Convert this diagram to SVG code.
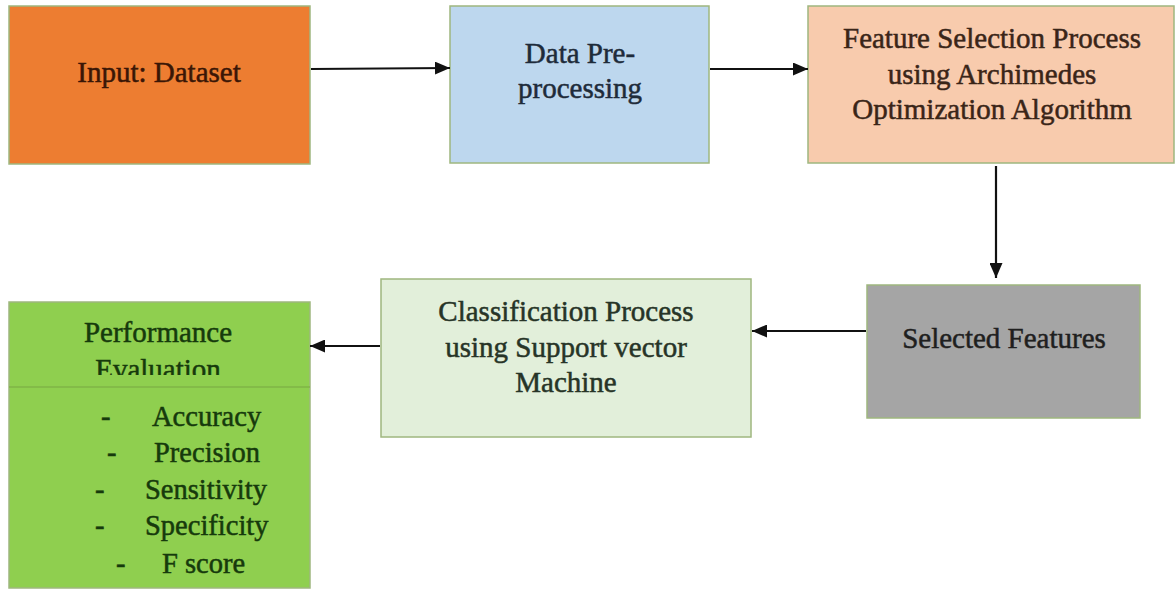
<svg xmlns="http://www.w3.org/2000/svg" width="1175" height="590" viewBox="0 0 1175 590">
<style>
.box{stroke:#9fb77f;stroke-width:1.5}
.t{font-family:"Liberation Serif","Times New Roman",serif;font-size:29px;text-anchor:middle;stroke-width:0.5}
.l{font-family:"Liberation Serif","Times New Roman",serif;font-size:28.5px;stroke-width:0.5}
.c{stroke:#111;stroke-width:2.2;fill:none;marker-end:url(#ah)}
</style>
<defs>
<marker id="ah" viewBox="0 0 15 13" refX="15" refY="6.5" markerWidth="15" markerHeight="13" markerUnits="userSpaceOnUse" orient="auto">
<path d="M0,0 L15,6.5 L0,13 Z" fill="#111"/>
</marker>
<clipPath id="hdr"><rect x="9" y="302" width="301" height="73"/></clipPath>
</defs>
<rect width="1175" height="590" fill="#fff"/>
<g id="input">
<rect class="box" x="9" y="6" width="301" height="158" fill="#ED7D31"/>
<text class="t" x="159" y="82" fill="#3a1606" stroke="#3a1606">Input: Dataset</text>
</g>
<g id="preprocessing">
<rect class="box" x="450" y="6" width="259" height="157" fill="#BDD7EE"/>
<text class="t" x="580" y="63" fill="#1e2b3a" stroke="#1e2b3a">Data Pre-</text>
<text class="t" x="580" y="98" fill="#1e2b3a" stroke="#1e2b3a">processing</text>
</g>
<g id="feature-selection">
<rect class="box" x="808" y="6" width="366" height="157" fill="#F8CBAD"/>
<text class="t" x="992" y="48" fill="#3a2518" stroke="#3a2518">Feature Selection Process</text>
<text class="t" x="992" y="84" fill="#3a2518" stroke="#3a2518">using Archimedes</text>
<text class="t" x="992" y="119" fill="#3a2518" stroke="#3a2518">Optimization Algorithm</text>
</g>
<g id="selected-features">
<rect class="box" x="867" y="285" width="273" height="133" fill="#A5A5A5"/>
<text class="t" x="1004" y="348" fill="#1f1f1f" stroke="#1f1f1f">Selected Features</text>
</g>
<g id="classification">
<rect class="box" x="381" y="279" width="370" height="158" fill="#E2EFDA"/>
<text class="t" x="566" y="321" fill="#273427" stroke="#273427">Classification Process</text>
<text class="t" x="566" y="357" fill="#273427" stroke="#273427">using Support vector</text>
<text class="t" x="566" y="392" fill="#273427" stroke="#273427">Machine</text>
</g>
<g id="performance">
<rect class="box" x="9" y="302" width="301" height="286" fill="#8FCF4F"/>
<line x1="9" y1="387" x2="310" y2="387" stroke="#7fb546" stroke-width="1.5"/>
<g clip-path="url(#hdr)">
<text class="t" x="158" y="342" fill="#163a0c" stroke="#163a0c">Performance</text>
<text class="t" x="158" y="379" fill="#163a0c" stroke="#163a0c">Evaluation</text>
</g>
<g class="l" fill="#163a0c" stroke="#163a0c">
<text x="101" y="426">-</text><text x="152" y="426">Accuracy</text>
<text x="107" y="462">-</text><text x="154" y="462">Precision</text>
<text x="95" y="499">-</text><text x="145" y="499">Sensitivity</text>
<text x="95" y="535">-</text><text x="145" y="535">Specificity</text>
<text x="116" y="573">-</text><text x="162" y="573">F score</text>
</g>
</g>
<g id="connectors">
<path class="c" d="M311,69 L450,68"/>
<path class="c" d="M710,69 L808,69"/>
<path class="c" d="M996,166 L996,278"/>
<path class="c" d="M866,331 L752,331"/>
<path class="c" d="M380,346 L310,346"/>
</g>
</svg>
